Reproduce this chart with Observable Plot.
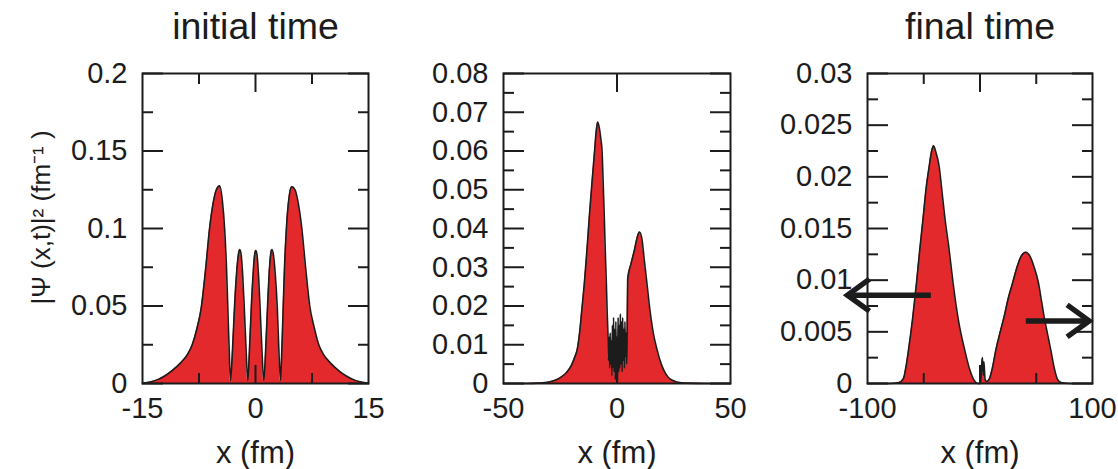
<!DOCTYPE html>
<html><head><meta charset="utf-8">
<script src="https://cdn.jsdelivr.net/npm/d3@7"></script>
<script src="https://cdn.jsdelivr.net/npm/@observablehq/plot@0.6"></script>
<style>
body{margin:0;background:#fff}
#wrap{position:relative;width:1118px;height:469px;overflow:hidden;background:#fff}
#wrap svg{position:absolute;top:0}
</style></head><body><div id="wrap"></div>
<script>
// ---------- Panel 1: initial time ----------
const x1 = [-15,-14,-13,-12,-11,-10,-9,-8.4,-7.8,-7.2,-6.6,-6.1,-5.6,-5.2,-4.75,-4.4,-4.1,-3.85,-3.65,-3.48,-3.32,
  -3.05,-2.8,-2.5,-2.25,-2.08,-1.9,-1.7,-1.5,-1.25,-1.02,
  -0.8,-0.55,-0.3,-0.12,0.04,0.2,0.4,0.6,0.85,1.1,
  1.35,1.6,1.8,2.0,2.17,2.35,2.6,2.9,3.1,3.32,
  3.48,3.65,3.85,4.1,4.45,4.82,5.25,5.65,6.15,6.65,7.2,7.8,8.4,9,10,11,12,13,14,15];
const y1 = [0.0002,0.001,0.0025,0.005,0.0086,0.013,0.019,0.025,0.035,0.049,0.075,0.1,0.117,0.125,0.1275,0.118,0.1,0.075,0.045,0.02,0.002,
  0.022,0.048,0.072,0.084,0.0865,0.083,0.07,0.05,0.022,0.002,
  0.022,0.05,0.072,0.083,0.0858,0.083,0.07,0.05,0.022,0.002,
  0.022,0.05,0.07,0.083,0.0865,0.084,0.072,0.048,0.022,0.002,
  0.02,0.045,0.075,0.1,0.12,0.127,0.125,0.117,0.1,0.075,0.05,0.036,0.025,0.019,0.013,0.0085,0.005,0.0025,0.001,0.0002];
const xTicks1 = [-15, 0, 15];
const xMinor1 = [-7.5, 7.5];
const yTicks1 = [0, 0.05, 0.1, 0.15, 0.2];
const yMinor1 = [0.025, 0.075, 0.125, 0.175];

// ---------- Panel 2: intermediate time ----------
const x2 = [-50,-40,-35,-30,-27,-25,-22,-20,-18.5,-17.6,-16.5,-15.5,-14.4,-13.3,-12.2,-11,-9.85,-9.1,-8.5,-7.8,-7.1,-6.6,-6.1,-5.6,-5.15,-4.7,-4.3,-4.0,
  -3.75,-3.5,-3.25,-3.0,-2.75,-2.5,-2.25,-2.0,-1.75,-1.5,-1.25,-1.0,-0.75,-0.5,-0.25,0,0.25,0.5,0.75,1.0,1.25,1.5,1.75,2.0,2.25,2.5,2.75,3.0,3.25,3.5,3.75,4.0,4.25,4.45,
  4.7,6.2,7.65,8.8,9.86,10.9,12,13.2,14.5,16,17.7,19.5,21.5,23.5,27,30,40,50];
const y2 = [0,0,0.0001,0.0004,0.0009,0.0015,0.003,0.0048,0.007,0.0086,0.013,0.019,0.0258,0.034,0.043,0.052,0.0602,0.0655,0.0675,0.066,0.063,0.0602,0.052,0.043,0.034,0.026,0.018,0.013,
  0.006,0.012,0.004,0.013,0.005,0.011,0.002,0.015,0.004,0.017,0.003,0.014,0.001,0.016,0.002,0.012,0.0005,0.017,0.003,0.015,0.004,0.018,0.005,0.016,0.003,0.017,0.006,0.014,0.004,0.016,0.007,0.013,0.005,0.012,
  0.027,0.031,0.0344,0.0375,0.0391,0.0376,0.032,0.0258,0.019,0.013,0.0086,0.005,0.0025,0.0011,0.0003,0.0001,0,0];
const xTicks2 = [-50, 0, 50];
const xMinor2 = [];
const yTicks2 = [0, 0.01, 0.02, 0.03, 0.04, 0.05, 0.06, 0.07, 0.08];
const yMinor2 = [0.005, 0.015, 0.025, 0.035, 0.045, 0.055, 0.065, 0.075];

// ---------- Panel 3: final time ----------
const x3 = [-100,-80,-72,-68,-66,-63.6,-60,-56.5,-53.5,-50.5,-48,-45.2,-43,-41.3,-39.5,-36.3,-34,-31.3,-27.5,-23.9,-19,-13.5,-9,-5.2,-2,
  0.5,1.5,2.2,2.8,3.5,4.5,6,8.1,11,14,17.5,21.4,25,28.9,33,36.5,40.7,44.5,48,52,54.5,57,60,63,66,68.9,72,80,100];
const y3 = [0,0,0.0001,0.0005,0.0015,0.0032,0.0062,0.0097,0.013,0.0161,0.0188,0.021,0.0225,0.023,0.0225,0.021,0.0188,0.0161,0.013,0.0097,0.006,0.0032,0.0013,0.0003,0,
  0,0.0018,0.0025,0.0008,0.0021,0.0004,0.0002,0.0004,0.0015,0.0032,0.0048,0.00645,0.0082,0.0097,0.0113,0.0123,0.0127,0.0123,0.0113,0.0097,0.0081,0.00645,0.0048,0.0032,0.0015,0.0004,0.0001,0,0];
const xTicks3 = [-100, 0, 100];
const xMinor3 = [-50, 50];
const yTicks3 = [0, 0.005, 0.01, 0.015, 0.02, 0.025, 0.03];
const yMinor3 = [0.0025, 0.0075, 0.0125, 0.0175, 0.0225, 0.0275];
// flux arrows (outgoing)
const arrowFrom = [-43.7, 40.7];
const arrowTo = [-117.8, 97];
const arrowY = [0.00855, 0.00606];
const arrowDir = ["left", "right"];

const titles = ["initial time", "", "final time"];
const xLabel = "x (fm)";
const yLabel = "|Ψ (x,t)|² (fm⁻¹ )";

// ---------- drawing ----------
const RED = "#e3292b", INK = "#1c1c1c";
const FONT = "'Liberation Sans', Arial, Helvetica, sans-serif";
const H = 469, MT = 73, MB = 86, FH = H - MT - MB;
const MAJ = 21, MIN = 11, XMAJ = 18, XMIN = 10;

const chevron = (dir) => ({
  draw(ctx) {
    const s = dir === "left" ? 1 : -1;
    ctx.moveTo(s * 22, -16); ctx.lineTo(0, 0); ctx.lineTo(s * 22, 16);
  }
});

function panel({xs, ys, xDomain, yDomain, xTicks, xMinor, yTicks, yMinor, left, width, ml, mr, title, withYLabel, extra = []}) {
  const data = xs.map((x, i) => ({x, y: ys[i]}));
  const xInner = xTicks.slice(1, -1);
  const none = () => "";
  // inward tick marks via Plot's own axes (negative tick size points into the frame)
  const tickAxes = [];
  for (const anchor of ["left", "right"]) {
    tickAxes.push(Plot.axisY({anchor, ticks: yTicks, tickSize: -MAJ, tickFormat: none, label: null, stroke: INK, strokeWidth: 2}));
    if (yMinor.length) tickAxes.push(Plot.axisY({anchor, ticks: yMinor, tickSize: -MIN, tickFormat: none, label: null, stroke: INK, strokeWidth: 2}));
  }
  for (const anchor of ["top", "bottom"]) {
    tickAxes.push(Plot.axisX({anchor, ticks: xInner, tickSize: -XMAJ, tickFormat: none, label: null, stroke: INK, strokeWidth: 2}));
    if (xMinor.length) tickAxes.push(Plot.axisX({anchor, ticks: xMinor, tickSize: -XMIN, tickFormat: none, label: null, stroke: INK, strokeWidth: 2}));
  }
  const marks = [
    Plot.areaY(data, {x: "x", y: "y", fill: RED, curve: "monotone-x"}),
    Plot.lineY(data, {x: "x", y: "y", stroke: INK, strokeWidth: 1.6, curve: "monotone-x"}),
    ...tickAxes,
    ...extra,
    Plot.frame({stroke: INK, strokeWidth: 2}),
    Plot.axisY({ticks: yTicks, tickSize: 0, tickPadding: 15, tickFormat: d => String(d), label: null, fill: INK}),
    Plot.axisX({ticks: xTicks, tickSize: 0, tickPadding: 14, tickFormat: d => String(d), label: null, fill: INK}),
    Plot.text([xLabel], {text: d => d, frameAnchor: "bottom", dy: 79, lineAnchor: "bottom", fontSize: 31, fill: INK})
  ];
  if (title) marks.push(Plot.text([title], {text: d => d, frameAnchor: "top", dy: -35, lineAnchor: "bottom", fontSize: 37.5, fill: INK}));
  if (withYLabel) marks.push(Plot.text([yLabel], {text: d => d, frameAnchor: "left", rotate: -90, dx: -101, dy: -11, textAnchor: "middle", lineAnchor: "middle", fontSize: 26, fill: INK}));
  const svg = Plot.plot({
    width, height: H,
    marginLeft: ml, marginRight: mr, marginTop: MT, marginBottom: MB,
    x: {domain: xDomain, label: null},
    y: {domain: yDomain, label: null},
    style: {fontFamily: FONT, fontSize: "29px", color: INK, background: "transparent", overflow: "visible"},
    marks
  });
  svg.style.left = left + "px";
  document.getElementById("wrap").appendChild(svg);
}

panel({xs: x1, ys: y1, xDomain: [-15, 15], yDomain: [0, 0.2], xTicks: xTicks1, xMinor: xMinor1, yTicks: yTicks1, yMinor: yMinor1,
  left: 0, width: 380, ml: 142, mr: 12, title: titles[0], withYLabel: true});
panel({xs: x2, ys: y2, xDomain: [-50, 50], yDomain: [0, 0.08], xTicks: xTicks2, xMinor: xMinor2, yTicks: yTicks2, yMinor: yMinor2,
  left: 380, width: 370, ml: 123, mr: 20, title: titles[1]});
const arrows = arrowFrom.map((a, i) => ({x1: a, x2: arrowTo[i], y: arrowY[i], dir: arrowDir[i]}));
panel({xs: x3, ys: y3, xDomain: [-100, 100], yDomain: [0, 0.03], xTicks: xTicks3, xMinor: xMinor3, yTicks: yTicks3, yMinor: yMinor3,
  left: 750, width: 368, ml: 117, mr: 26, title: titles[2],
  extra: [
    Plot.link(arrows, {x1: "x1", x2: "x2", y1: "y", y2: "y", stroke: INK, strokeWidth: 5.5, strokeLinecap: "butt"}),
    ...arrows.map(a => Plot.dot([a], {x: "x2", y: "y", symbol: chevron(a.dir), fill: "none", stroke: INK, strokeWidth: 5.5, strokeLinejoin: "miter"}))
  ]});
</script></body></html>
